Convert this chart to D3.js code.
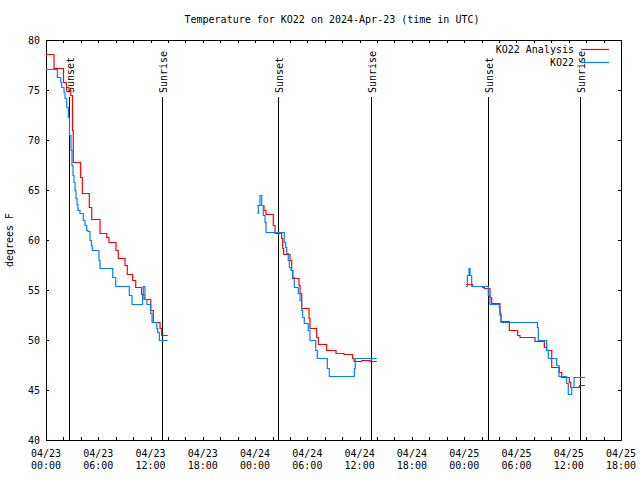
<!DOCTYPE html>
<html><head><meta charset="utf-8">
<script src="https://cdn.jsdelivr.net/npm/d3@7"></script>
<style>
body{margin:0;background:#fff;}
text{font-family:"DejaVu Sans Mono","Liberation Mono",monospace;font-size:10px;fill:#000;}
</style></head>
<body><svg id="c" width="640" height="480"></svg>
<script>
// Hours after 2024-04-23 00:00 UTC
const analysis1H = [0,0.92,2.01,2.35,2.64,2.84,3.04,3.13,3.98,4.17,4.97,5.25,6.20,6.97,7.23,8.03,8.30,9.07,9.33,9.95,10.30,10.98,11.25,12.02,12.32,13.09,13.28,13.97];
const analysis1V = [78.6,77.2,75.8,75.3,75.0,74.5,71.0,67.8,66.3,64.7,63.3,62.1,60.7,60.3,59.8,59.0,58.2,57.5,56.6,56.0,55.3,54.6,54.1,53.0,51.8,51.2,50.5,50.5];
const obs1H = [0,1.30,1.69,1.80,2.07,2.18,2.38,2.56,2.70,2.87,2.98,3.10,3.21,3.33,3.44,3.56,3.67,3.90,4.28,4.48,4.67,4.82,5.05,5.22,5.31,6.08,6.20,7.66,8.00,9.56,9.87,11.08,11.17,11.36,11.59,12.02,12.17,12.71,12.82,13.01,13.97];
const obs1V = [77.1,76.3,75.8,75.3,74.8,74.2,73.3,72.3,70.5,69.0,67.5,66.5,65.8,65.0,64.2,63.6,63.0,62.7,62.0,61.5,61.0,60.9,60.0,59.5,59.0,58.0,57.2,56.3,55.4,54.5,53.6,54.5,55.4,54.1,53.6,52.7,51.8,51.2,50.8,50.0,50.0];

const analysis2H = [24.26,25.02,25.25,26.09,26.29,27.05,27.17,27.28,28.01,28.20,28.32,29.04,29.16,29.35,30.19,30.30,31.07,31.26,32.22,33.29,34.21,35.20,35.35,36.24,37.19,37.96];
const analysis2V = [63.5,63.0,62.6,61.5,60.7,60.2,59.2,58.6,58.0,57.0,56.2,55.5,54.7,53.2,52.2,51.2,50.3,49.6,49.0,48.7,48.6,48.2,47.9,48.0,47.9,47.9];
const obs2H = [24.26,24.37,24.56,24.76,24.94,25.14,25.25,27.35,27.51,27.63,27.81,27.93,28.12,28.32,28.50,28.96,29.16,29.35,29.46,29.65,30.11,30.30,30.96,31.14,32.29,32.52,35.39,35.50,37.96];
const obs2V = [62.7,63.5,64.5,63.5,62.5,61.8,60.8,59.8,59.3,58.7,58.0,57.3,57.0,56.3,55.3,54.7,54.0,53.0,52.3,51.7,51.0,50.0,49.0,48.2,47.2,46.4,47.2,48.2,48.2];

const analysis3H = [48.21,48.98,50.12,50.31,50.96,51.16,52.11,52.23,53.18,54.14,54.41,56.13,57.20,57.47,58.05,58.92,59.19,60.07,60.23,61.21,61.87];
const analysis3V = [55.6,55.4,55.3,55.2,54.3,53.7,52.7,51.9,51.0,50.5,50.3,49.9,49.3,49.0,47.3,46.8,46.3,45.8,45.3,45.5,45.5];
const obs3H = [48.21,48.36,48.55,48.67,48.86,50.77,50.96,52.03,52.11,52.23,56.40,56.51,57.47,57.66,58.62,58.88,59.76,59.95,60.34,60.61,61.87];
const obs3V = [55.4,56.5,57.2,56.5,55.4,54.5,53.6,53.3,52.5,51.8,51.3,50.0,49.0,48.2,47.5,46.4,45.7,44.6,45.3,46.3,46.3];

const sunEventH = [2.64,13.30,26.63,37.30,50.73,61.30];
const sunEventLabel = ["Sunset","Sunrise","Sunset","Sunrise","Sunset","Sunrise"];
const yTicks = [40,45,50,55,60,65,70,75,80];
const seriesNames = ["KO22 Analysis","KO22"];
const seriesColors = ["#ff0000","#0080ff"];
const titleText = "Temperature for KO22 on 2024-Apr-23 (time in UTC)";
const yLabel = "degrees F";

const base = Date.UTC(2024,3,23,0,0);
const toDate = h => new Date(base + h*3600e3);
const L=46,R=621,T=40,B=440;
const x = d3.scaleUtc().domain([toDate(0), toDate(66)]).range([L,R]);
const y = d3.scaleLinear().domain([40,80]).range([B,T]);
const svg = d3.select("#c");

// frame
svg.append("rect").attr("x",L+0.5).attr("y",T+0.5).attr("width",R-L).attr("height",B-T)
  .attr("fill","none").attr("stroke","#000").attr("shape-rendering","crispEdges");

// x ticks every 2 hours, top and bottom
const xt = d3.utcHour.every(2).range(toDate(0), toDate(66.01));
xt.forEach(d=>{
  const px = Math.round(x(d))+0.5;
  svg.append("line").attr("x1",px).attr("x2",px).attr("y1",B).attr("y2",B-3).attr("stroke","#000").attr("shape-rendering","crispEdges");
  svg.append("line").attr("x1",px).attr("x2",px).attr("y1",T).attr("y2",T+3).attr("stroke","#000").attr("shape-rendering","crispEdges");
});
// x labels every 6 hours
const fmtD = d3.utcFormat("%m/%d"), fmtT = d3.utcFormat("%H:%M");
d3.utcHour.every(6).range(toDate(0), toDate(66.01)).forEach(d=>{
  const t = svg.append("text").attr("text-anchor","middle");
  t.append("tspan").attr("x",x(d)).attr("y",457).text(fmtD(d));
  t.append("tspan").attr("x",x(d)).attr("y",469).text(fmtT(d));
});
// y ticks
yTicks.forEach(v=>{
  const py = Math.round(y(v))+0.5;
  svg.append("line").attr("x1",L).attr("x2",L+3).attr("y1",py).attr("y2",py).attr("stroke","#000").attr("shape-rendering","crispEdges");
  svg.append("line").attr("x1",R).attr("x2",R-3).attr("y1",py).attr("y2",py).attr("stroke","#000").attr("shape-rendering","crispEdges");
  svg.append("text").attr("x",40).attr("y",y(v)).attr("dy","0.35em").attr("text-anchor","end").text(v);
});

// title & y label
svg.append("text").attr("x",332).attr("y",23).attr("text-anchor","middle").text(titleText);
svg.append("text").attr("transform","translate(13,240) rotate(-90)").attr("text-anchor","middle").text(yLabel);

// sun event lines
sunEventH.forEach((h,i)=>{
  const px = Math.round(x(toDate(h)))+0.5;
  svg.append("line").attr("x1",px).attr("x2",px).attr("y1",97).attr("y2",B).attr("stroke","#000").attr("shape-rendering","crispEdges");
  svg.append("text").attr("transform",`translate(${px+1},93) rotate(-90)`).attr("dy","0.35em").text(sunEventLabel[i]);
});

// data
const line = d3.line().x(d=>x(toDate(d[0]))).y(d=>Math.round(y(d[1]))+0.5).curve(d3.curveStepAfter);
const zip = (a,b)=>a.map((h,i)=>[h,b[i]]);
const groups = [
  [[analysis1H,analysis1V],[analysis2H,analysis2V],[analysis3H,analysis3V]],
  [[obs1H,obs1V],[obs2H,obs2V],[obs3H,obs3V]]
];
groups.forEach((segs,si)=>{
  segs.forEach(s=>{
    svg.append("path").attr("d",line(zip(s[0],s[1]))).attr("fill","none")
      .attr("stroke",seriesColors[si]).attr("stroke-width",1.2);
  });
});

// legend
seriesNames.forEach((n,i)=>{
  const ly = 49 + i*13;
  svg.append("text").attr("x",574).attr("y",ly).attr("dy","0.35em").attr("text-anchor","end").text(n);
  svg.append("line").attr("x1",581).attr("x2",609).attr("y1",ly+0.5).attr("y2",ly+0.5).attr("stroke",seriesColors[i]).attr("stroke-width",1.2);
});
</script></body></html>
